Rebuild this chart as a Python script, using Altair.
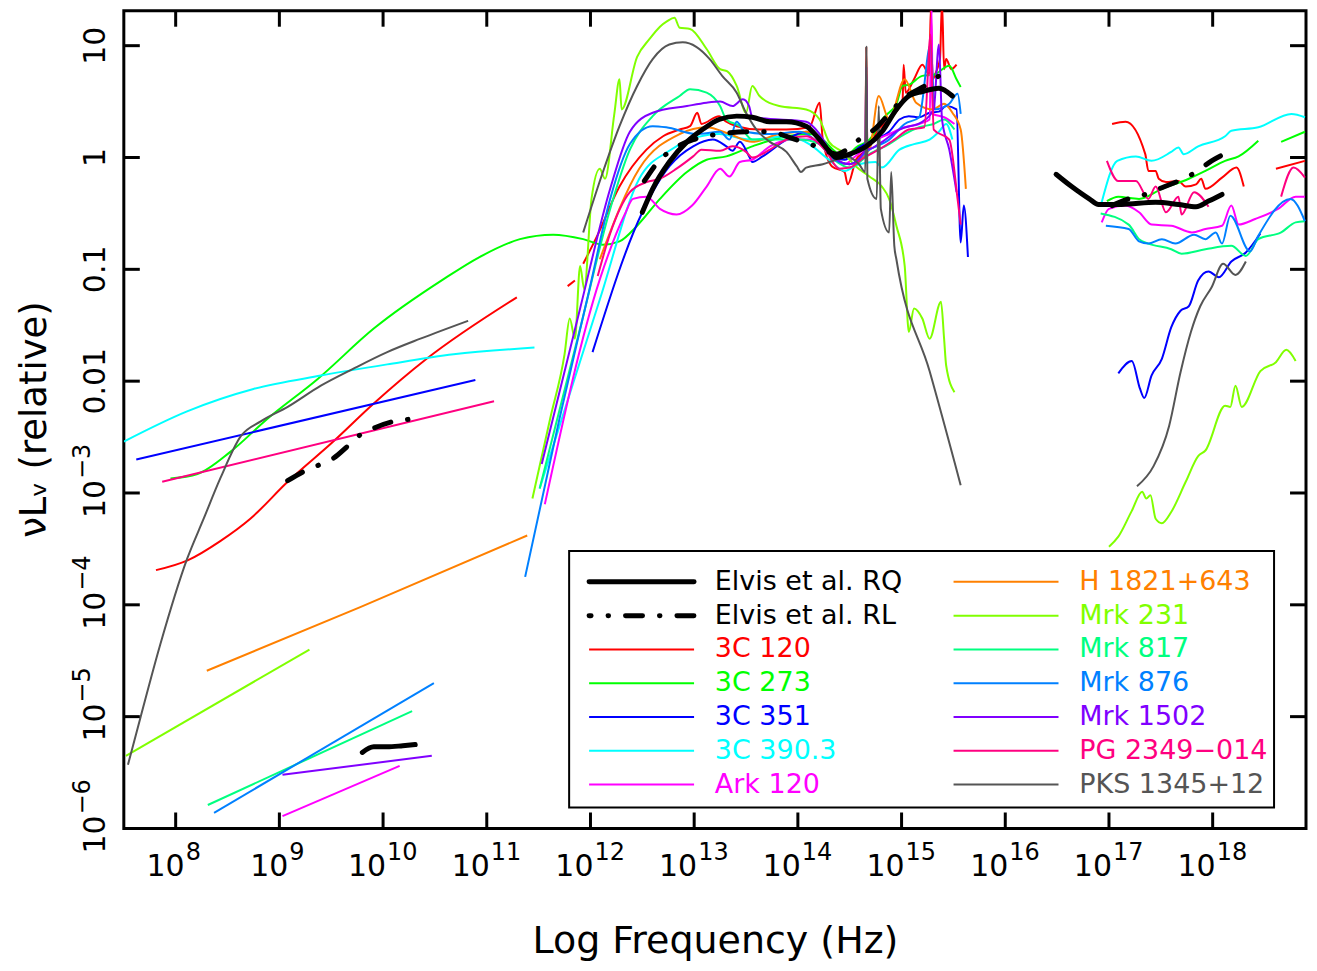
import altair as alt
import pandas as pd

# ---------------------------------------------------------------------------
# Data: log10(frequency / Hz)  and  log10(nu L_nu, relative)
# ---------------------------------------------------------------------------
# Elvis et al. radio-quiet mean SED
RQ_RADIO_F = [9.80, 9.91, 10.04, 10.19, 10.31]
RQ_RADIO_L = [-5.32, -5.27, -5.27, -5.26, -5.25]
RQ_IRUV_F = [12.50, 12.60, 12.76, 12.93, 13.08, 13.24, 13.41, 13.56, 13.73, 13.89, 14.08,
             14.21, 14.30, 14.37, 14.50, 14.66, 14.81, 14.95, 15.07, 15.20, 15.36, 15.49]
RQ_IRUV_L = [-0.49, -0.28, -0.04, 0.14, 0.25, 0.34, 0.37, 0.36, 0.32, 0.32, 0.28,
             0.16, 0.06, 0.00, 0.03, 0.10, 0.23, 0.43, 0.55, 0.59, 0.62, 0.55]
RQ_X_F = [16.49, 16.64, 16.81, 16.90, 17.12, 17.45, 17.67, 17.84, 17.96, 18.09]
RQ_X_L = [-0.15, -0.26, -0.37, -0.42, -0.42, -0.40, -0.42, -0.44, -0.39, -0.33]

# Elvis et al. radio-loud mean SED
RL_RADIO_F = [9.08, 9.23, 9.38, 9.52, 9.66, 9.78, 9.91, 10.10, 10.26]
RL_RADIO_L = [-2.89, -2.81, -2.75, -2.69, -2.58, -2.48, -2.42, -2.36, -2.34]
RL_IRUV_F = [12.52, 12.67, 12.79, 12.99, 13.12, 13.24, 13.56, 13.73, 13.89, 14.04, 14.21,
             14.37, 14.59, 14.76, 14.88, 15.01, 15.24, 15.36]
RL_IRUV_L = [-0.21, -0.02, 0.07, 0.16, 0.19, 0.21, 0.23, 0.23, 0.19, 0.14, 0.09,
             0.03, 0.16, 0.27, 0.39, 0.52, 0.65, 0.73]
RL_X_F = [17.03, 17.19, 17.35, 17.51, 17.67, 17.84, 17.99, 18.11]
RL_X_L = [-0.43, -0.37, -0.33, -0.27, -0.21, -0.13, -0.03, 0.03]

# 3C 120
C120_RADIO_F = [7.81, 8.12, 8.43, 8.72, 9.08, 9.52, 9.91, 10.42, 11.29]
C120_RADIO_L = [-3.69, -3.60, -3.43, -3.23, -2.90, -2.54, -2.20, -1.80, -1.25]
C120_IRA_F = [11.78, 11.85]
C120_IRA_L = [-1.15, -1.10]
C120_IRUV_F = [11.93, 12.06, 12.28, 12.54, 12.70, 12.86, 12.96, 13.03, 13.07, 13.24,
               13.31, 13.41, 13.63, 13.89, 14.11, 14.21, 14.24, 14.33, 14.45, 14.48,
               14.56, 14.65, 14.66, 14.67, 14.76, 14.88, 15.01, 15.02, 15.04, 15.12,
               15.20, 15.27, 15.28, 15.30, 15.33, 15.37, 15.39, 15.41, 15.43, 15.48, 15.53]
C120_IRUV_L = [-0.95, -0.71, -0.26, 0.07, 0.19, 0.25, 0.28, 0.40, 0.30, 0.37,
               0.32, 0.28, 0.25, 0.25, 0.27, 0.49, 0.16, -0.08, -0.13, -0.24,
               -0.02, 0.07, 0.99, 0.07, 0.23, 0.34, 0.52, 0.83, 0.58, 0.70,
               0.83, 0.74, 1.32, 0.70, 0.76, 0.88, 1.39, 0.79, 0.88, 0.79, 0.83]
C120_X_F = [17.03, 17.16, 17.35, 17.38, 17.45, 17.48, 17.55, 17.67, 17.74, 17.84,
            17.89, 17.93, 18.09, 18.23, 18.30]
C120_X_L = [0.30, 0.32, 0.03, -0.12, -0.12, -0.19, -0.22, -0.21, -0.26, -0.24,
            -0.19, -0.28, -0.18, -0.09, -0.26]
C120_X2_F = [18.61, 18.89]
C120_X2_L = [-0.10, -0.03]

# 3C 273
C273_F = [7.95, 8.21, 8.53, 8.88, 9.37, 9.91, 10.58, 10.93, 11.32, 11.64,
          11.93, 12.12, 12.28, 12.45, 12.67, 12.93, 13.12, 13.31, 13.56, 13.89,
          14.11, 14.24, 14.35, 14.45, 14.56, 14.69, 14.83, 14.95, 15.01, 15.07,
          15.20, 15.31, 15.46, 15.53, 15.57]
C273_L = [-2.87, -2.83, -2.63, -2.34, -1.98, -1.53, -1.09, -0.89, -0.73, -0.69,
          -0.73, -0.78, -0.75, -0.61, -0.37, -0.13, -0.02, 0.01, 0.10, 0.19,
          0.21, 0.16, 0.06, 0.00, 0.09, 0.16, 0.36, 0.48, 0.64, 0.65,
          0.73, 0.74, 0.82, 0.70, 0.63]
C273_X_F = [16.98, 17.09, 17.29, 17.51, 17.77, 17.93, 18.12, 18.25, 18.44]
C273_X_L = [-0.39, -0.35, -0.37, -0.28, -0.19, -0.12, -0.03, 0.01, 0.15]
C273_X2_F = [18.66, 18.89]
C273_X2_L = [0.14, 0.23]

# 3C 351
C351_RADIO_F = [7.62, 10.89]
C351_RADIO_L = [-2.70, -1.99]
C351_IRUV_F = [12.02, 12.50, 12.76, 12.99, 13.18, 13.31, 13.37, 13.44, 13.53, 13.56,
               13.66, 13.89, 14.08, 14.24, 14.35, 14.45, 14.59, 14.74, 14.88, 14.98,
               15.07, 15.17, 15.27, 15.36, 15.43, 15.53, 15.57, 15.60, 15.64]
C351_IRUV_L = [-1.74, -0.49, -0.08, 0.10, 0.16, 0.10, 0.06, 0.14, 0.01, -0.04,
               0.01, 0.16, 0.23, 0.16, 0.00, -0.02, 0.09, 0.16, 0.23, 0.34,
               0.37, 0.36, 0.40, 0.41, 0.46, 0.43, -0.76, -0.43, -0.89]
C351_X_F = [17.09, 17.22, 17.30, 17.34, 17.41, 17.51, 17.60, 17.69, 17.77, 17.86,
            17.96, 18.06, 18.18, 18.32, 18.46]
C351_X_L = [-1.93, -1.82, -2.07, -2.15, -1.95, -1.80, -1.52, -1.37, -1.33, -1.10,
            -1.02, -1.07, -0.93, -0.85, -0.68]

# 3C 390.3
C390_RADIO_F = [7.50, 8.11, 8.75, 9.40, 10.04, 10.68, 11.46]
C390_RADIO_L = [-2.54, -2.27, -2.07, -1.95, -1.85, -1.76, -1.70]
C390_IRUV_F = [11.51, 12.09, 12.47, 12.76, 12.96, 13.24, 13.53, 13.89, 14.11, 14.30,
               14.45, 14.59, 14.75, 14.81, 14.98, 15.12, 15.27, 15.36, 15.43, 15.49]
C390_IRUV_L = [-2.96, -1.27, -0.19, 0.06, 0.16, 0.21, 0.16, 0.19, 0.12, -0.02,
               -0.12, -0.06, -0.04, -0.09, 0.07, 0.12, 0.16, 0.23, 0.30, 0.16]
C390_X_F = [16.93, 17.08, 17.26, 17.41, 17.60, 17.67, 17.72, 17.86, 18.12, 18.18,
            18.44, 18.76, 18.89]
C390_X_L = [-0.40, -0.03, 0.01, -0.03, 0.05, 0.09, 0.03, 0.10, 0.19, 0.24,
            0.27, 0.39, 0.36]

# Ark 120
ARK_RADIO_F = [9.03, 10.16]
ARK_RADIO_L = [-5.89, -5.44]
ARK_IRUV_F = [11.56, 12.09, 12.33, 12.41, 12.54, 12.67, 12.83, 12.98, 13.12, 13.25,
              13.34, 13.44, 13.56, 13.73, 13.95, 14.14, 14.30, 14.45, 14.54, 14.76,
              14.88, 15.03, 15.17, 15.27, 15.29, 15.30, 15.41, 15.51]
ARK_IRUV_L = [-3.10, -1.09, -0.51, -0.37, -0.35, -0.46, -0.51, -0.43, -0.26, -0.10,
              -0.17, -0.04, -0.02, 0.10, 0.16, 0.16, 0.07, -0.06, 0.00, 0.16,
              0.21, 0.27, 0.30, 0.34, 1.32, 0.39, 0.36, 0.30]
ARK_X_F = [16.93, 17.00, 17.16, 17.29, 17.41, 17.60, 17.80, 17.93, 18.09, 18.18,
           18.25, 18.41, 18.63, 18.80, 18.89]
ARK_X_L = [-0.58, -0.46, -0.43, -0.49, -0.60, -0.61, -0.67, -0.64, -0.61, -0.43,
           -0.60, -0.55, -0.46, -0.35, -0.35]

# H 1821+643
H18_RADIO_F = [8.30, 9.78, 11.39]
H18_RADIO_L = [-4.59, -4.02, -3.38]
H18_IRUV_F = [12.09, 12.47, 12.86, 13.12, 13.34, 13.56, 13.82, 14.11, 14.30, 14.50,
              14.69, 14.78, 14.88, 15.03, 15.14, 15.30, 15.41, 15.49, 15.57, 15.62]
H18_IRUV_L = [-0.91, -0.10, 0.21, 0.27, 0.21, 0.14, 0.21, 0.23, 0.03, -0.06,
              0.07, 0.55, 0.34, 0.70, 0.49, 0.43, 0.48, 0.40, 0.25, -0.28]

# Mrk 231
M231_RADIO_F = [7.52, 9.29]
M231_RADIO_L = [-5.35, -4.40]
M231_IRUV_F = [11.44, 11.61, 11.75, 11.80, 11.85, 11.90, 11.94, 12.01, 12.09, 12.14,
               12.23, 12.28, 12.30, 12.45, 12.57, 12.67, 12.74, 12.81, 12.86, 12.96,
               13.12, 13.25, 13.32, 13.41, 13.50, 13.56, 13.63, 13.82, 14.08, 14.21,
               14.30, 14.43, 14.56, 14.69, 14.81, 14.88, 14.95, 15.03, 15.07, 15.12,
               15.20, 15.27, 15.38, 15.41, 15.43, 15.51]
M231_IRUV_L = [-3.05, -2.34, -1.76, -1.44, -1.62, -0.97, -1.18, -0.37, -0.10, -0.19,
               0.39, 0.70, 0.43, 0.90, 1.06, 1.17, 1.22, 1.25, 1.16, 1.15,
               0.97, 0.79, 0.77, 0.64, 0.40, 0.64, 0.55, 0.46, 0.43, 0.34,
               0.14, 0.05, -0.08, -0.17, -0.26, -0.37, -0.61, -0.97, -1.56, -1.35,
               -1.44, -1.62, -1.29, -1.62, -1.86, -2.10]
M231_X_F = [17.00, 17.09, 17.22, 17.32, 17.36, 17.40, 17.45, 17.51, 17.60, 17.74,
            17.86, 17.93, 18.12, 18.17, 18.22, 18.28, 18.46, 18.61, 18.71, 18.80]
M231_X_L = [-3.48, -3.39, -3.16, -2.99, -3.05, -3.02, -3.23, -3.27, -3.17, -2.90,
            -2.67, -2.62, -2.22, -2.23, -2.04, -2.23, -1.91, -1.83, -1.72, -1.82]

# Mrk 817
M817_RADIO_F = [8.31, 10.28]
M817_RADIO_L = [-5.79, -4.95]
M817_IRUV_F = [11.51, 11.90, 12.19, 12.38, 12.60, 12.86, 12.96, 13.12, 13.25, 13.31,
               13.44, 13.56, 13.82, 14.01, 14.21, 14.35, 14.50, 14.69, 14.88, 15.03,
               15.17, 15.31, 15.41, 15.51]
M817_IRUV_L = [-2.96, -1.53, -0.46, 0.07, 0.37, 0.55, 0.61, 0.58, 0.46, 0.34,
               0.28, 0.16, 0.16, 0.16, 0.12, -0.02, -0.09, 0.03, 0.12, 0.21,
               0.27, 0.30, 0.34, 0.25]
M817_X_F = [16.92, 17.19, 17.29, 17.38, 17.60, 17.70, 17.93, 18.18, 18.32, 18.44,
            18.66, 18.80, 18.89]
M817_X_L = [-0.50, -0.60, -0.73, -0.77, -0.82, -0.86, -0.82, -0.79, -0.88, -0.73,
            -0.67, -0.58, -0.57]

# Mrk 876
M876_RADIO_F = [8.37, 10.49]
M876_RADIO_L = [-5.86, -4.70]
M876_IRUV_F = [11.37, 11.70, 11.99, 12.19, 12.38, 12.60, 12.73, 13.02, 13.25, 13.34,
               13.41, 13.49, 13.73, 14.01, 14.21, 14.35, 14.50, 14.69, 14.88, 15.03,
               15.17, 15.28, 15.32, 15.46, 15.54, 15.57]
M876_IRUV_L = [-3.75, -2.34, -1.18, -0.37, 0.12, 0.28, 0.27, 0.21, 0.23, 0.16,
               0.32, 0.23, 0.21, 0.23, 0.12, -0.02, -0.06, 0.07, 0.16, 0.30,
               0.36, 1.01, 0.43, 0.48, 0.57, 0.39]
M876_X_F = [16.97, 17.19, 17.29, 17.38, 17.51, 17.64, 17.82, 17.93, 18.03, 18.09,
            18.17, 18.36, 18.44, 18.75, 18.89]
M876_X_L = [-0.61, -0.64, -0.75, -0.77, -0.73, -0.77, -0.69, -0.73, -0.67, -0.77,
            -0.52, -0.84, -0.70, -0.37, -0.57]

# Mrk 1502
M1502_RADIO_F = [9.03, 10.47]
M1502_RADIO_L = [-5.52, -5.35]
M1502_IRUV_F = [11.53, 11.90, 12.19, 12.38, 12.60, 12.93, 13.12, 13.25, 13.37, 13.47,
                13.53, 13.56, 13.82, 14.08, 14.21, 14.35, 14.50, 14.65, 14.66, 14.67,
                14.78, 14.98, 15.20, 15.31, 15.36, 15.39, 15.46, 15.53]
M1502_IRUV_L = [-2.74, -1.35, -0.28, 0.23, 0.40, 0.46, 0.49, 0.50, 0.46, 0.52,
                0.46, 0.36, 0.34, 0.32, 0.21, 0.00, -0.06, 0.07, 0.81, 0.07,
                0.12, 0.25, 0.32, 0.43, 1.01, 0.34, 0.07, -0.31]

# PG 2349-014
PG_RADIO_F = [7.87, 11.07]
PG_RADIO_L = [-2.90, -2.18]
PG_IRUV_F = [12.07, 12.19, 12.38, 12.54, 12.67, 12.83, 12.99, 13.07, 13.25, 13.37,
             13.50, 13.56, 13.73, 13.89, 14.08, 14.26, 14.40, 14.50, 14.64, 14.78,
             14.93, 15.07, 15.22, 15.28, 15.31, 15.46, 15.54, 15.57]
PG_IRUV_L = [-1.06, -0.68, -0.31, -0.22, -0.19, -0.10, 0.01, 0.07, 0.06, 0.10,
             0.05, 0.00, 0.07, 0.16, 0.19, 0.07, -0.10, -0.09, 0.00, 0.07,
             0.16, 0.25, 0.27, 1.10, 0.25, 0.16, -0.37, -0.60]
PG_X_F = [16.98, 17.09, 17.26, 17.38, 17.45, 17.55, 17.67, 17.70, 17.82, 17.96]
PG_X_L = [-0.03, -0.21, -0.21, -0.37, -0.26, -0.49, -0.35, -0.51, -0.31, -0.44]
PG_X2_F = [18.66, 18.78, 18.89]
PG_X2_L = [-0.35, -0.09, -0.18]

# PKS 1345+12
PKS_RADIO_F = [7.54, 7.66, 7.85, 8.11, 8.27, 8.43, 8.63, 8.82, 9.08, 9.40, 9.71, 10.04,
               10.36, 10.82]
PKS_RADIO_L = [-5.43, -5.01, -4.36, -3.59, -3.23, -2.87, -2.49, -2.36, -2.23, -2.04,
               -1.89, -1.74, -1.62, -1.46]
PKS_IRUV_F = [11.93, 12.12, 12.28, 12.45, 12.60, 12.76, 12.89, 13.02, 13.15, 13.27,
              13.41, 13.50, 13.60, 13.73, 13.89, 13.99, 14.03, 14.08, 14.24, 14.37,
              14.47, 14.59, 14.65, 14.66, 14.67, 14.76, 14.78, 14.80, 14.88, 14.90,
              14.93, 14.95, 15.27, 15.57]
PKS_IRUV_L = [-0.67, -0.13, 0.28, 0.64, 0.88, 1.01, 1.03, 0.99, 0.88, 0.73,
              0.58, 0.40, 0.25, 0.14, 0.05, -0.08, -0.13, -0.09, -0.06, -0.02,
              0.01, -0.06, -0.13, 0.99, -0.19, -0.37, 0.46, -0.46, -0.67, -0.13,
              -0.79, -0.91, -1.91, -2.93]
PKS_X_F = [17.27, 17.43, 17.58, 17.69, 17.79, 17.88, 17.99, 18.10, 18.22, 18.32]
PKS_X_L = [-2.94, -2.76, -2.40, -1.92, -1.56, -1.33, -1.16, -0.95, -1.05, -0.93]

# Names / colours / legend layout
NAMES = ["Elvis et al. RQ", "Elvis et al. RL", "3C 120", "3C 273", "3C 351", "3C 390.3",
         "Ark 120", "H 1821+643", "Mrk 231", "Mrk 817", "Mrk 876", "Mrk 1502",
         "PG 2349\u2212014", "PKS 1345+12"]
COLORS = ["#000000", "#000000", "#ff0000", "#00ff00", "#0000ff", "#00ffff", "#ff00ff",
          "#ff8000", "#80ff00", "#00ff80", "#0080ff", "#8000ff", "#ff0080", "#555555"]
LEG_COL = [0, 0, 0, 0, 0, 0, 0, 1, 1, 1, 1, 1, 1, 1]
LEG_ROW = [0, 1, 2, 3, 4, 5, 6, 0, 1, 2, 3, 4, 5, 6]

# Tick values and tick labels ("10" base with exponent)
XTICKS = list(range(8, 19))
XTICK_EXP = ["8", "9", "10", "11", "12", "13", "14", "15", "16", "17", "18"]
YTICKS_POW = [-6, -5, -4, -3]
YTICK_EXP = ["\u22126", "\u22125", "\u22124", "\u22123"]
YTICKS_PLAIN = [-2, -1, 0, 1]
YTICK_PLAIN_LABELS = ["0.01", "0.1", "1", "10"]
YTICKS = YTICKS_POW + YTICKS_PLAIN
XTITLE = "Log Frequency (Hz)"
YTITLE = "\u03bdL\u1d65 (relative)"

SEGMENTS = [
    ("3C 120", C120_RADIO_F, C120_RADIO_L), ("3C 120", C120_IRA_F, C120_IRA_L),
    ("3C 120", C120_IRUV_F, C120_IRUV_L), ("3C 120", C120_X_F, C120_X_L),
    ("3C 120", C120_X2_F, C120_X2_L),
    ("3C 273", C273_F, C273_L), ("3C 273", C273_X_F, C273_X_L), ("3C 273", C273_X2_F, C273_X2_L),
    ("3C 351", C351_RADIO_F, C351_RADIO_L), ("3C 351", C351_IRUV_F, C351_IRUV_L),
    ("3C 351", C351_X_F, C351_X_L),
    ("3C 390.3", C390_RADIO_F, C390_RADIO_L), ("3C 390.3", C390_IRUV_F, C390_IRUV_L),
    ("3C 390.3", C390_X_F, C390_X_L),
    ("Ark 120", ARK_RADIO_F, ARK_RADIO_L), ("Ark 120", ARK_IRUV_F, ARK_IRUV_L),
    ("Ark 120", ARK_X_F, ARK_X_L),
    ("H 1821+643", H18_RADIO_F, H18_RADIO_L), ("H 1821+643", H18_IRUV_F, H18_IRUV_L),
    ("Mrk 231", M231_RADIO_F, M231_RADIO_L), ("Mrk 231", M231_IRUV_F, M231_IRUV_L),
    ("Mrk 231", M231_X_F, M231_X_L),
    ("Mrk 817", M817_RADIO_F, M817_RADIO_L), ("Mrk 817", M817_IRUV_F, M817_IRUV_L),
    ("Mrk 817", M817_X_F, M817_X_L),
    ("Mrk 876", M876_RADIO_F, M876_RADIO_L), ("Mrk 876", M876_IRUV_F, M876_IRUV_L),
    ("Mrk 876", M876_X_F, M876_X_L),
    ("Mrk 1502", M1502_RADIO_F, M1502_RADIO_L), ("Mrk 1502", M1502_IRUV_F, M1502_IRUV_L),
    ("PG 2349\u2212014", PG_RADIO_F, PG_RADIO_L), ("PG 2349\u2212014", PG_IRUV_F, PG_IRUV_L),
    ("PG 2349\u2212014", PG_X_F, PG_X_L), ("PG 2349\u2212014", PG_X2_F, PG_X2_L),
    ("PKS 1345+12", PKS_RADIO_F, PKS_RADIO_L), ("PKS 1345+12", PKS_IRUV_F, PKS_IRUV_L),
    ("PKS 1345+12", PKS_X_F, PKS_X_L),
    ("Elvis et al. RQ", RQ_RADIO_F, RQ_RADIO_L), ("Elvis et al. RQ", RQ_IRUV_F, RQ_IRUV_L),
    ("Elvis et al. RQ", RQ_X_F, RQ_X_L),
    ("Elvis et al. RL", RL_RADIO_F, RL_RADIO_L), ("Elvis et al. RL", RL_IRUV_F, RL_IRUV_L),
    ("Elvis et al. RL", RL_X_F, RL_X_L),
]

rows = []
for k, (name, fs, ls) in enumerate(SEGMENTS):
    assert len(fs) == len(ls), (name, k)
    for i, (f, l) in enumerate(zip(fs, ls)):
        rows.append({"series": name, "seg": k, "i": i, "f": f, "l": l})
df = pd.DataFrame(rows)
df_thin = df[~df["series"].str.startswith("Elvis")]
df_rq = df[df["series"] == "Elvis et al. RQ"]
df_rl = df[df["series"] == "Elvis et al. RL"]

# ---------------------------------------------------------------------------
W, H = 1184, 819
FONT = "DejaVu Sans"
BASE_FS, EXP_FS = 30, 24

xs = alt.Scale(domain=[7.5, 18.9], nice=False, zero=False)
ys = alt.Scale(domain=[-6, 1.3125], nice=False, zero=False)
cs = alt.Scale(domain=NAMES, range=COLORS)

xaxis = alt.Axis(values=XTICKS, labels=False, ticks=False, tickSize=0, domain=False,
                 grid=False, title=XTITLE, titleFont=FONT, titleFontSize=38,
                 titleFontWeight="normal", titleColor="black", titleX=592, titleY=124,
                 titleAlign="center", titleBaseline="alphabetic")
yaxis = alt.Axis(values=YTICKS, labels=False, ticks=False, tickSize=0, domain=False,
                 grid=False, title=YTITLE, titleFont=FONT, titleFontSize=37,
                 titleFontWeight="normal", titleColor="black", titleAngle=270,
                 titleX=-89, titleY=409, titleAlign="center", titleBaseline="middle")

X = alt.X("f:Q", scale=xs, axis=xaxis)
Y = alt.Y("l:Q", scale=ys, axis=yaxis)

thin = alt.Chart(df_thin).mark_line(strokeWidth=2, clip=True, strokeJoin="round",
                                    interpolate="monotone").encode(
    x=X, y=Y, color=alt.Color("series:N", scale=cs, legend=None),
    detail="seg:N", order="i:Q")
rq = alt.Chart(df_rq).mark_line(strokeWidth=5, color="black", clip=True, interpolate="monotone",
                                strokeCap="round", strokeJoin="round").encode(
    x=X, y=Y, detail="seg:N", order="i:Q")
rl = alt.Chart(df_rl).mark_line(strokeWidth=5, color="black", clip=True, strokeCap="round",
                                interpolate="monotone", strokeDash=[17, 17, 0.5, 17]).encode(
    x=X, y=Y, detail="seg:N", order="i:Q")

# inward ticks on all four sides
df_xt = pd.DataFrame({"f": XTICKS, "e": XTICK_EXP})
df_yt = pd.DataFrame({"l": YTICKS})
tick_b = alt.Chart(df_xt).mark_rule(strokeWidth=3, color="black").encode(
    x=X, y=alt.value(H), y2=alt.value(H - 16))
tick_t = alt.Chart(df_xt).mark_rule(strokeWidth=3, color="black").encode(
    x=X, y=alt.value(0), y2=alt.value(16))
tick_l = alt.Chart(df_yt).mark_rule(strokeWidth=3, color="black").encode(
    y=Y, x=alt.value(0), x2=alt.value(16))
tick_r = alt.Chart(df_yt).mark_rule(strokeWidth=3, color="black").encode(
    y=Y, x=alt.value(W), x2=alt.value(W - 16))

# x tick labels: "10" + raised exponent
xl = alt.Chart(df_xt).transform_calculate(n="length(datum.e)")
xl_b1 = xl.transform_filter("datum.n == 1").mark_text(
    text="10", align="right", baseline="alphabetic", font=FONT, fontSize=BASE_FS, dx=9,
    color="black").encode(x=X, y=alt.value(H + 48))
xl_e1 = xl.transform_filter("datum.n == 1").mark_text(
    align="left", baseline="alphabetic", font=FONT, fontSize=EXP_FS, dx=10,
    color="black").encode(x=X, y=alt.value(H + 32), text="e:N")
xl_b2 = xl.transform_filter("datum.n == 2").mark_text(
    text="10", align="right", baseline="alphabetic", font=FONT, fontSize=BASE_FS, dx=3,
    color="black").encode(x=X, y=alt.value(H + 48))
xl_e2 = xl.transform_filter("datum.n == 2").mark_text(
    align="left", baseline="alphabetic", font=FONT, fontSize=EXP_FS, dx=4,
    color="black").encode(x=X, y=alt.value(H + 32), text="e:N")

# y tick labels (rotated)
df_yp = pd.DataFrame({"l": YTICKS_POW, "e": YTICK_EXP})
df_yn = pd.DataFrame({"l": YTICKS_PLAIN, "t": YTICK_PLAIN_LABELS})
yl_plain = alt.Chart(df_yn).mark_text(
    angle=270, align="center", baseline="alphabetic", font=FONT, fontSize=BASE_FS,
    color="black").encode(y=Y, x=alt.value(-19), text="t:N")
yl_base = alt.Chart(df_yp).mark_text(
    text="10", angle=270, align="left", baseline="alphabetic", font=FONT, fontSize=BASE_FS,
    dx=-25, color="black").encode(y=Y, x=alt.value(-19))
yl_exp = alt.Chart(df_yp).mark_text(
    angle=270, align="left", baseline="alphabetic", font=FONT, fontSize=EXP_FS,
    dx=14, dy=-15, color="black").encode(y=Y, x=alt.value(-19), text="e:N")

box = alt.Chart(pd.DataFrame({"a": [0]})).mark_rect(
    fill="white", stroke="black", strokeWidth=2).encode(
    x=alt.value(446), x2=alt.value(1152), y=alt.value(541), y2=alt.value(798))

main = alt.layer(thin, rq, rl, tick_b, tick_t, tick_l, tick_r,
                 xl_b1, xl_e1, xl_b2, xl_e2, yl_plain, yl_base, yl_exp, box)

# legend
df_leg = pd.DataFrame({"series": NAMES, "col": LEG_COL, "row": LEG_ROW})
lxs = alt.Scale(domain=[0, 1], range=[466, 831])
lys = alt.Scale(domain=[0, 6], range=[572, 775])
leg = alt.Chart(df_leg).transform_calculate(lx2="datum.col + 0.288", tx="datum.col + 0.345")
LX = alt.X("col:Q", scale=lxs, axis=None)
LY = alt.Y("row:Q", scale=lys, axis=None)

sw_thin = leg.transform_filter("datum.row >= 2 || datum.col == 1").mark_rule(
    strokeWidth=2).encode(x=LX, x2="lx2:Q", y=LY,
                          color=alt.Color("series:N", scale=cs, legend=None))
sw_rq = leg.transform_filter("datum.col == 0 && datum.row == 0").mark_rule(
    strokeWidth=5, color="black", strokeCap="round").encode(x=LX, x2="lx2:Q", y=LY)
sw_rl = leg.transform_filter("datum.col == 0 && datum.row == 1").mark_rule(
    strokeWidth=5, color="black", strokeCap="round", strokeDash=[17, 17, 0.5, 17],
    strokeDashOffset=15).encode(x=LX, x2="lx2:Q", y=LY)
leg_txt = leg.mark_text(align="left", baseline="middle", font=FONT, fontSize=27).encode(
    x=alt.X("tx:Q", scale=lxs, axis=None), y=LY, text="series:N",
    color=alt.Color("series:N", scale=cs, legend=None))

legend = alt.layer(sw_thin, sw_rq, sw_rl, leg_txt)

chart = alt.layer(main, legend).resolve_scale(x="independent", y="independent").properties(
    width=W, height=H,
    padding={"left": 116, "top": 2, "right": 3, "bottom": 133},
    autosize=alt.AutoSizeParams(type="none"),
).configure_view(stroke="black", strokeWidth=3)

chart.save("out.html", embed_options={"renderer": "svg", "actions": False})
